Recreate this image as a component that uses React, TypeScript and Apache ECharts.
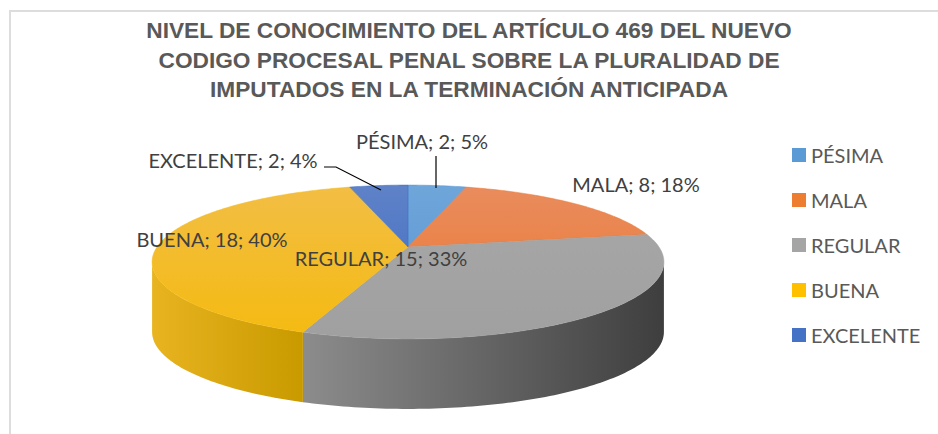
import React, { useEffect, useRef } from "react";
import * as echarts from "echarts";

const titleLines = [
  "NIVEL DE CONOCIMIENTO DEL ARTÍCULO 469 DEL NUEVO",
  "CODIGO PROCESAL PENAL SOBRE LA PLURALIDAD DE",
  "IMPUTADOS EN LA TERMINACIÓN ANTICIPADA",
];
const categories = ["PÉSIMA", "MALA", "REGULAR", "BUENA", "EXCELENTE"];
const counts = [2, 8, 15, 18, 2];
const percentLabels = ["5%", "18%", "33%", "40%", "4%"];

// styling / layout (not data)
const baseColors = ["#5B9BD5", "#ED7D31", "#A5A5A5", "#FFC000", "#4472C4"];
const topColors = [
  ["#6FA6DA", "#5793D0"],
  ["#E98C5E", "#EC772E"],
  ["#A8A8A8", "#A0A0A0"],
  ["#F2BE45", "#F5BA10"],
  ["#5F82C8", "#3D6AC3"],
];
const wallColors = [
  ["#4A7DB0", "#3D6A99"],
  ["#C5621F", "#A9521A"],
  ["#8C8C8C", "#3E3E3E"],
  ["#E8B420", "#C99A00"],
  ["#36599C", "#2C4A86"],
];
const labelPos = [
  [422, 141],
  [636, 184],
  [381, 258],
  [212, 239],
  [233, 160],
];
const leaderLines: number[][][] = [
  [
    [436, 156],
    [436, 188],
  ],
  [],
  [],
  [],
  [
    [324, 167],
    [336, 167],
    [381, 190],
  ],
];

const CX = 408;
const CY = 247;
const RX = 251;
const RY = 74;
const K = 0.195;
const DEPTH = 70;
const LABEL_FONT = "Lato, 'Noto Sans', sans-serif";

function proj(a: number): number[] {
  const c = Math.sin(a);
  const s = -Math.cos(a);
  const d = 1 - K * s;
  return [CX + (RX * c) / d, CY + (RY * s) / d];
}

function arcPoints(a0: number, a1: number): number[][] {
  const pts: number[][] = [];
  const n = Math.max(2, Math.ceil(((a1 - a0) * 180) / Math.PI));
  for (let i = 0; i <= n; i++) pts.push(proj(a0 + ((a1 - a0) * i) / n));
  return pts;
}

export default function App() {
  const ref = useRef<HTMLDivElement>(null);
  useEffect(() => {
    if (!ref.current) return;
    const chart = echarts.init(ref.current, undefined, { renderer: "svg" });
    const total = counts.reduce((a, b) => a + b, 0);
    const cum: number[] = [0];
    counts.forEach((v, i) => cum.push(cum[i] + v));
    const frontA0 = Math.acos(-K);
    const frontA1 = 2 * Math.PI - frontA0;

    const series = categories.map((name, idx) => ({
      type: "custom",
      name,
      coordinateSystem: "none",
      itemStyle: { color: baseColors[idx] },
      data: [[counts[idx]]],
      renderItem: (params: any, api: any) => {
        const v = api.value(0);
        const a0 = (cum[idx] / total) * 2 * Math.PI;
        const a1 = ((cum[idx] + v) / total) * 2 * Math.PI;
        const children: any[] = [];
        const w0 = Math.max(a0, frontA0);
        const w1 = Math.min(a1, frontA1);
        if (w1 > w0) {
          const top = arcPoints(w0, w1);
          const bottom = top.map((p) => [p[0], p[1] + DEPTH]).reverse();
          const xs = top.map((p) => p[0]);
          children.push({
            type: "polygon",
            shape: { points: top.concat(bottom) },
            style: {
              fill: new echarts.graphic.LinearGradient(
                Math.min(...xs),
                0,
                Math.max(...xs),
                0,
                [
                  { offset: 0, color: wallColors[idx][0] },
                  { offset: 1, color: wallColors[idx][1] },
                ],
                true
              ),
              stroke: null,
            },
          });
        }
        const topPts = [[CX, CY]].concat(arcPoints(a0, a1));
        children.push({
          type: "polygon",
          shape: { points: topPts },
          style: {
            fill: new echarts.graphic.LinearGradient(
              0,
              CY - 62,
              0,
              CY + 92,
              [
                { offset: 0, color: topColors[idx][0] },
                { offset: 1, color: topColors[idx][1] },
              ],
              true
            ),
            stroke: topColors[idx][1],
            lineWidth: 0.5,
          },
        });
        if (leaderLines[idx].length) {
          children.push({
            type: "polyline",
            z2: 100,
            shape: { points: leaderLines[idx] },
            style: { stroke: "#000000", lineWidth: 1.2, fill: null },
          });
        }
        children.push({
          type: "text",
          z2: 100,
          x: labelPos[idx][0],
          y: labelPos[idx][1],
          style: {
            text: `${categories[idx]}; ${v}; ${percentLabels[idx]}`,
            fill: "#404040",
            fontSize: 20,
            fontFamily: LABEL_FONT,
            align: "center",
            verticalAlign: "middle",
          },
        });
        return { type: "group", children };
      },
    }));

    chart.setOption({
      animation: false,
      backgroundColor: "#ffffff",
      title: {
        text: titleLines.join("\n"),
        left: "center",
        top: 10.5,
        textStyle: {
          fontFamily: "'Liberation Sans', Arial, sans-serif",
          fontSize: 22.7,
          fontWeight: "bold",
          color: "#595959",
          lineHeight: 29.5,
        },
      },
      legend: {
        orient: "vertical",
        left: 787,
        top: 140,
        icon: "rect",
        itemWidth: 14,
        itemHeight: 14,
        itemGap: 25,
        data: categories,
        textStyle: {
          fontFamily: LABEL_FONT,
          fontSize: 20,
          color: "#595959",
        },
      },
      graphic: [
        {
          type: "rect",
          shape: { x: 10, y: 11, width: 940, height: 440 },
          style: { fill: null, stroke: "#DDDDDD", lineWidth: 2 },
          silent: true,
        },
      ],
      series,
    });
    return () => chart.dispose();
  }, []);
  return (
    <div
      ref={ref}
      style={{ position: "absolute", left: 0, top: 0, width: 938, height: 434 }}
    />
  );
}
